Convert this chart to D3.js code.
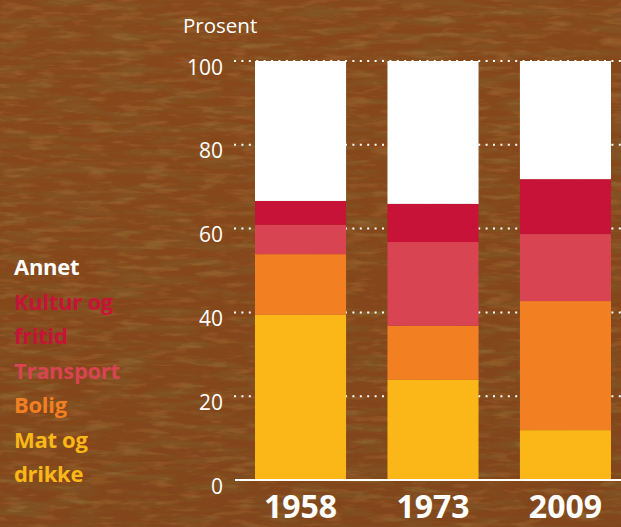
<!DOCTYPE html>
<html>
<head>
<meta charset="utf-8">
<script src="https://cdn.jsdelivr.net/npm/d3@7"></script>
<style>
html,body{margin:0;padding:0;background:#7a4114;}
svg{display:block;}
text{font-family:"Open Sans",sans-serif;}
</style>
</head>
<body>
<svg id="chart" width="621" height="527"></svg>
<script>
// ---- data ----
const years = ["1958", "1973", "2009"];
const categories = ["Mat og drikke", "Bolig", "Transport", "Kultur og fritid", "Annet"];
const matOgDrikke = [39.4, 23.9, 11.9];
const bolig = [14.5, 12.9, 30.8];
const transport = [7.0, 20.0, 16.0];
const kulturOgFritid = [5.7, 9.1, 13.1];
const annet = [33.4, 34.1, 28.2];
const yTicks = [0, 20, 40, 60, 80, 100];
const legendLines = [
  ["Annet", "Annet"],
  ["Kultur og", "Kultur og fritid"],
  ["fritid", "Kultur og fritid"],
  ["Transport", "Transport"],
  ["Bolig", "Bolig"],
  ["Mat og", "Mat og drikke"],
  ["drikke", "Mat og drikke"]
];
const colors = {
  "Mat og drikke": "#fbb717",
  "Bolig": "#f28023",
  "Transport": "#d84452",
  "Kultur og fritid": "#c71337",
  "Annet": "#ffffff"
};

const seriesValues = [matOgDrikke, bolig, transport, kulturOgFritid, annet];
const rows = years.map((yr, i) => {
  const r = {year: yr};
  categories.forEach((c, k) => r[c] = seriesValues[k][i]);
  return r;
});

const svg = d3.select("#chart");
const W = 621, H = 527;

// ---- background (wood-like texture) ----
const defs = svg.append("defs");
const bg = defs.append("linearGradient").attr("id", "bgGrad")
  .attr("x1", 0).attr("y1", 0).attr("x2", 0.3).attr("y2", 1);
bg.append("stop").attr("offset", "0%").attr("stop-color", "#a05a1c");
bg.append("stop").attr("offset", "50%").attr("stop-color", "#8a4a17");
bg.append("stop").attr("offset", "100%").attr("stop-color", "#5e3210");
const f = defs.append("filter").attr("id", "wood").attr("x", 0).attr("y", 0).attr("width", "100%").attr("height", "100%");
f.append("feTurbulence").attr("type", "fractalNoise").attr("baseFrequency", "0.02 0.12")
  .attr("numOctaves", 4).attr("seed", 11).attr("result", "noise");
f.append("feColorMatrix").attr("in", "noise").attr("type", "matrix")
  .attr("values", "0 0 0 0 0.22  0 0 0 0 0.10  0 0 0 0 0.02  -2.4 0 0 0 1.45")
  .attr("result", "dark");
f.append("feComposite").attr("in", "dark").attr("in2", "SourceGraphic").attr("operator", "atop");
const f2 = defs.append("filter").attr("id", "light").attr("x", 0).attr("y", 0).attr("width", "100%").attr("height", "100%");
f2.append("feTurbulence").attr("type", "fractalNoise").attr("baseFrequency", "0.035 0.18")
  .attr("numOctaves", 3).attr("seed", 3).attr("result", "noise");
f2.append("feColorMatrix").attr("in", "noise").attr("type", "matrix")
  .attr("values", "0 0 0 0 0.78  0 0 0 0 0.45  0 0 0 0 0.14  2.6 0 0 0 -1.35")
  .attr("result", "lt");
f2.append("feComposite").attr("in", "lt").attr("in2", "SourceGraphic").attr("operator", "atop");
svg.append("rect").attr("width", W).attr("height", H).attr("fill", "url(#bgGrad)");
svg.append("rect").attr("width", W).attr("height", H).attr("fill", "#86461a").attr("filter", "url(#light)").attr("opacity", 0.7);
svg.append("rect").attr("width", W).attr("height", H).attr("fill", "#86461a").attr("filter", "url(#wood)").attr("opacity", 0.75);

// ---- scales ----
const x = d3.scaleBand().domain(years).range([255, 611]).paddingInner(0.3125).paddingOuter(0);
const y = d3.scaleLinear().domain([0, 100]).range([480, 61]);

// ---- gridlines ----
svg.append("g").selectAll("line").data(yTicks.filter(t => t > 0)).join("line")
  .attr("x1", 234).attr("x2", W)
  .attr("y1", d => y(d)).attr("y2", d => y(d))
  .attr("stroke", "#ffffff").attr("stroke-width", 2)
  .attr("stroke-dasharray", "2,5.4").attr("stroke-linecap", "butt");

// ---- y axis labels ----
const yAxis = d3.axisLeft(y).tickValues(yTicks).tickSize(0).tickPadding(0);
const yg = svg.append("g").attr("transform", "translate(223,0)").call(yAxis);
yg.select(".domain").remove();
yg.selectAll("text").attr("fill", "#ffffff").attr("font-size", 21)
  .attr("font-family", "'Open Sans',sans-serif").attr("dy", "0.62em").attr("dx", 0);

svg.append("text").attr("x", 183).attr("y", 33).attr("fill", "#fff")
  .attr("font-size", 20.5).text("Prosent");

// ---- stacked bars ----
const stack = d3.stack().keys(categories)(rows);
svg.append("g").selectAll("g").data(stack).join("g")
  .attr("fill", d => colors[d.key])
  .selectAll("rect").data(d => d).join("rect")
  .attr("x", d => x(d.data.year))
  .attr("width", x.bandwidth())
  .attr("y", d => y(d[1]))
  .attr("height", d => y(d[0]) - y(d[1]));

// ---- baseline ----
svg.append("line").attr("x1", 235).attr("x2", W).attr("y1", y(0)).attr("y2", y(0))
  .attr("stroke", "#fff").attr("stroke-width", 2);

// ---- x axis labels ----
const xAxis = d3.axisBottom(x).tickSize(0).tickPadding(0);
const xg = svg.append("g").attr("transform", "translate(0,518)").call(xAxis);
xg.select(".domain").remove();
xg.selectAll("text").attr("fill", "#fff").attr("font-size", 32).attr("font-weight", 700)
  .attr("font-family", "'Open Sans',sans-serif").attr("dy", 0).attr("y", 0);

// ---- legend ----
svg.append("g").selectAll("text").data(legendLines).join("text")
  .attr("x", 14).attr("y", (d, i) => 275 + i * 34.5)
  .attr("fill", d => colors[d[1]])
  .attr("font-size", 22).attr("font-weight", 700).attr("letter-spacing", "-0.3px")
  .text(d => d[0]);
</script>
</body>
</html>
